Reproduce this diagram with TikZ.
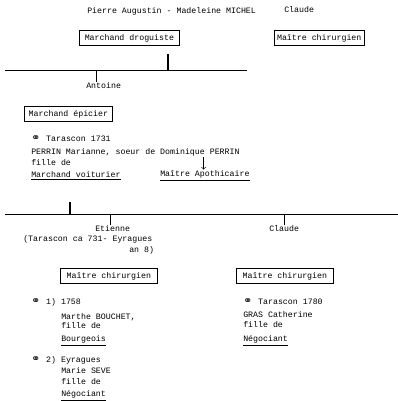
\documentclass[tikz,border=0pt]{standalone}
\usepackage{fontspec}
\setmonofont{Liberation Mono}
\newfontfamily\symfont{DejaVu Sans Bold}
\usepackage{xcolor}
\usepackage{tikz}

\newcommand{\mrg}{\makebox[11.2pt][l]{\symfont\fontsize{8}{8}\selectfont ⚭}}
\tikzset{
  txt/.style={anchor=west, inner sep=0.75pt, font=\ttfamily\fontsize{6.2}{7.5}\selectfont},
  metier/.style={txt, draw, line width=0.6pt, inner ysep=2.6pt, inner xsep=2pt},
  trunk/.style={line width=1pt}
}

\begin{document}
\begin{tikzpicture}[x=0.75pt,y=0.75pt,yscale=-1,xscale=1]
	\useasboundingbox (0,0) rectangle (398,401);
	
	% first generation
	\node [txt] (couple) at (86,11) {Pierre Augustin - Madeleine MICHEL};
	\node [txt] (claudeA) at (283,10) {Claude};
	\node [metier, minimum width=75pt] (droguiste) at (79,38) {Marchand droguiste};
	\node [metier, minimum width=66pt] (chirA) at (274,38) {Maître chirurgien};
	
	%Straight Lines
	\coordinate (lineAw) at (5,70);
	\coordinate (lineAe) at (247,70);
	\coordinate (dropA) at (168,54);
	\coordinate (tickA) at (96,70);
	\draw (lineAw) -- (lineAe);
	\draw [trunk] (dropA) -- (dropA |- lineAw);
	
	% second generation
	\node [txt] (antoine) at (85,86) {Antoine};
	\draw (tickA) -- (tickA |- antoine.north);
	\node [metier, minimum width=66pt] (epicier) at (24,114) {Marchand épicier};
	
	\node [txt] (marA) at (30,139) {\mrg Tarascon 1731};
	\node [txt] (perrin) at (30,152) {PERRIN Marianne, soeur de Dominique PERRIN};
	\node [txt] (filleA) at (30,163) {fille de};
	\node [txt] (voiturier) at (30,176) {\underline{Marchand voiturier}};
	\node [txt] (apothicaire) at (159,176) {\underline{Maître Apothicaire}};
	\draw [->] ([xshift=-1pt]apothicaire.north |- perrin.south) -- ([xshift=-1pt]apothicaire.north);
	
	%Straight Lines
	\coordinate (lineBw) at (5,214);
	\coordinate (lineBe) at (398,214);
	\coordinate (dropB) at (70,202);
	\draw (lineBw) -- (lineBe);
	\draw [trunk] (dropB) -- (dropB |- lineBw);
	
	% third generation
	\node [txt] (etienne) at (94,229) {Etienne};
	\node [txt] (dates) at (22,239) {(Tarascon ca 731- Eyragues};
	\node [txt] (dates2) at (128,250) {an 8)};
	\node [txt] (claudeB) at (268,229) {Claude};
	\draw ([xshift=-2pt]etienne.north |- lineBw) -- ([xshift=-2pt]etienne.north);
	\draw (claudeB.north |- lineBw) -- (claudeB.north);
	
	\node [metier, minimum width=72.75pt] (chirB) at (60,276) {Maître chirurgien};
	\node [metier, minimum width=72.75pt] (chirC) at (236,276) {Maître chirurgien};
	
	% left column
	\node [txt] (marB) at (30,302) {\mrg 1) 1758};
	\node [txt] (bouchet) at (60,317) {Marthe BOUCHET,};
	\node [txt] (filleB) at (60,326) {fille de};
	\node [txt] (bourgeois) at (60,341) {\underline{Bourgeois}};
	\node [txt] (marC) at (30,360) {\mrg 2) Eyragues};
	\node [txt] (seve) at (60,371) {Marie SEVE};
	\node [txt] (filleC) at (60,382) {fille de};
	\node [txt] (negoA) at (60,396) {\underline{Négociant}};
	
	% right column
	\node [txt] (marD) at (242,302) {\mrg Tarascon 1780};
	\node [txt] (gras) at (242,315) {GRAS Catherine};
	\node [txt] (filleD) at (242,325) {fille de};
	\node [txt] (negoB) at (242,341) {\underline{Négociant}};
\end{tikzpicture}
\end{document}
